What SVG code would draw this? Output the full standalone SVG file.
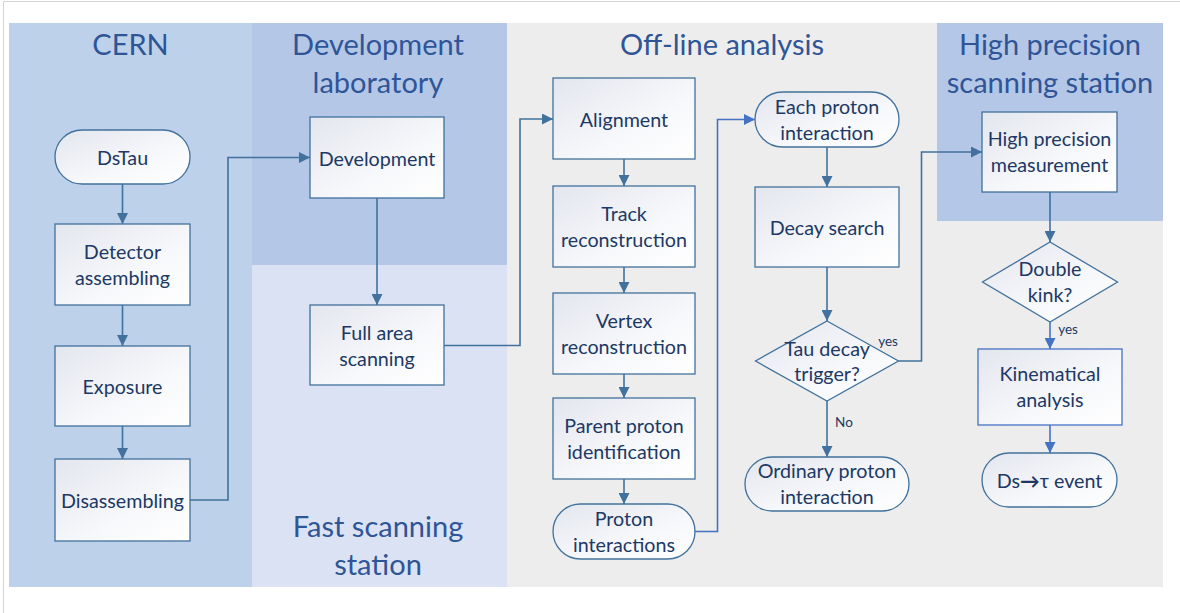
<svg xmlns="http://www.w3.org/2000/svg" width="1180" height="613" viewBox="0 0 1180 613">
<defs>
<linearGradient id="fillg" x1="0" y1="0" x2="1" y2="1">
<stop offset="0" stop-color="#E3E6EE"/>
<stop offset="0.6" stop-color="#F7F8FB"/>
<stop offset="1" stop-color="#FFFFFF"/>
</linearGradient>
<marker id="arr" viewBox="0 0 10 10" refX="10" refY="5" markerWidth="11" markerHeight="11" markerUnits="userSpaceOnUse" orient="auto">
<path d="M0,0 L10,5 L0,10 z" fill="#41719C"/>
</marker>
<marker id="arrb" viewBox="0 0 10 10" refX="10" refY="5" markerWidth="11" markerHeight="11" markerUnits="userSpaceOnUse" orient="auto">
<path d="M0,0 L10,5 L0,10 z" fill="#4472C4"/>
</marker>
</defs>
<style>
.node{fill:url(#fillg);stroke:#41719C;stroke-width:1.3}
.nodeb{fill:url(#fillg);stroke:#4472C4;stroke-width:1.3}
.t{font-family:Lato,"Liberation Sans",sans-serif;font-size:19.7px;fill:#203864;text-anchor:middle}
.title{font-family:Lato,"Liberation Sans",sans-serif;font-size:29px;fill:#2F5597;text-anchor:middle}
.lbl{font-family:Lato,"Liberation Sans",sans-serif;font-size:13.5px;fill:#203864;text-anchor:middle}
.c{fill:none;stroke:#41719C;stroke-width:1.6;marker-end:url(#arr)}
.cb{fill:none;stroke:#4472C4;stroke-width:1.6;marker-end:url(#arrb)}
</style>
<rect x="0" y="0" width="1180" height="613" fill="#FFFFFF"/>
<path d="M3.5 613 V1.5 H1180" fill="none" stroke="#D4D4D4" stroke-width="1"/>
<g id="panels">
<rect x="9" y="23" width="243" height="564" fill="#BED1EA"/>
<rect x="252" y="23" width="255" height="242" fill="#B4C7E7"/>
<rect x="252" y="265" width="255" height="322" fill="#DAE2F3"/>
<rect x="507" y="23" width="656" height="564" fill="#EDEDED"/>
<rect x="937" y="23" width="226" height="198" fill="#B4C7E7"/>
</g>
<g id="titles">
<text class="title" x="130.5" y="55">CERN</text>
<text class="title" x="378" y="55">Development</text>
<text class="title" x="378" y="93">laboratory</text>
<text class="title" x="722" y="55">Off-line analysis</text>
<text class="title" x="1050" y="55">High precision</text>
<text class="title" x="1050" y="93">scanning station</text>
<text class="title" x="378" y="537">Fast scanning</text>
<text class="title" x="378" y="575">station</text>
</g>
<g id="connectors">
<path class="c" d="M122.5 184 V224"/>
<path class="c" d="M122.5 305 V346"/>
<path class="c" d="M122.5 426 V459"/>
<path class="c" d="M190 500 H228 V157.5 H310"/>
<path class="c" d="M377 198 V305"/>
<path class="c" d="M444 345.5 H520 V119 H553"/>
<path class="c" d="M624 159 V186"/>
<path class="c" d="M624 267 V293"/>
<path class="c" d="M624 374 V398"/>
<path class="c" d="M624 479 V504"/>
<path class="cb" d="M695 531.5 H717.5 V119.5 H755"/>
<path class="c" d="M827 147 V187"/>
<path class="c" d="M827 267 V321"/>
<path class="c" d="M827 401 V457"/>
<path class="c" d="M898.5 361 H921.5 V152 H982"/>
<path class="c" d="M1050 192 V242"/>
<path class="cb" d="M1050 322 V349"/>
<path class="cb" d="M1050 425 V453"/>
<text class="lbl" x="888" y="346">yes</text>
<text class="lbl" x="844" y="427">No</text>
<text class="lbl" x="1068" y="334">yes</text>
</g>
<g id="n-dstau">
<rect class="node" x="55" y="130" width="135" height="54" rx="27"/>
<text class="t" x="122.5" y="165">DsTau</text>
</g>
<g id="n-detector">
<rect class="node" x="55" y="224" width="135" height="81"/>
<text class="t" x="122.5" y="258.5">Detector</text>
<text class="t" x="122.5" y="284.5">assembling</text>
</g>
<g id="n-exposure">
<rect class="node" x="55" y="346" width="135" height="80"/>
<text class="t" x="122.5" y="394">Exposure</text>
</g>
<g id="n-disassembling">
<rect class="node" x="55" y="459" width="135" height="82"/>
<text class="t" x="122.5" y="508">Disassembling</text>
</g>
<g id="n-development">
<rect class="node" x="310" y="117" width="134" height="81"/>
<text class="t" x="377" y="165.5">Development</text>
</g>
<g id="n-fullarea">
<rect class="node" x="310" y="305" width="134" height="80"/>
<text class="t" x="377" y="339.5">Full area</text>
<text class="t" x="377" y="365.5">scanning</text>
</g>
<g id="n-alignment">
<rect class="node" x="553" y="78" width="142" height="81"/>
<text class="t" x="624" y="126.5">Alignment</text>
</g>
<g id="n-track">
<rect class="node" x="553" y="186" width="142" height="81"/>
<text class="t" x="624" y="220.5">Track</text>
<text class="t" x="624" y="246.5">reconstruction</text>
</g>
<g id="n-vertex">
<rect class="node" x="553" y="293" width="142" height="81"/>
<text class="t" x="624" y="327.5">Vertex</text>
<text class="t" x="624" y="353.5">reconstruction</text>
</g>
<g id="n-parent">
<rect class="node" x="553" y="398" width="142" height="81"/>
<text class="t" x="624" y="432.5">Parent proton</text>
<text class="t" x="624" y="458.5">identification</text>
</g>
<g id="n-proton">
<rect class="node" x="553" y="504" width="142" height="55" rx="27.5"/>
<text class="t" x="624" y="525.5">Proton</text>
<text class="t" x="624" y="551.5">interactions</text>
</g>
<g id="n-each">
<rect class="node" x="755" y="92" width="144" height="55" rx="27.5"/>
<text class="t" x="827" y="113.5">Each proton</text>
<text class="t" x="827" y="139.5">interaction</text>
</g>
<g id="n-decay">
<rect class="node" x="755" y="187" width="144" height="80"/>
<text class="t" x="827" y="235">Decay search</text>
</g>
<g id="n-tau">
<polygon class="node" points="827,321 898.5,361 827,401 755.5,361"/>
<text class="t" x="827" y="355.5">Tau decay</text>
<text class="t" x="827" y="381">trigger?</text>
</g>
<g id="n-ordinary">
<rect class="node" x="745" y="457" width="164" height="54" rx="27"/>
<text class="t" x="827" y="478">Ordinary proton</text>
<text class="t" x="827" y="504">interaction</text>
</g>
<g id="n-hpm">
<rect class="node" x="982" y="112" width="135" height="80"/>
<text class="t" x="1049.5" y="146">High precision</text>
<text class="t" x="1049.5" y="172">measurement</text>
</g>
<g id="n-double">
<polygon class="node" points="1050,242 1117.5,282 1050,322 982.5,282"/>
<text class="t" x="1050" y="276">Double</text>
<text class="t" x="1050" y="302">kink?</text>
</g>
<g id="n-kinematical">
<rect class="nodeb" x="978" y="349" width="144" height="76"/>
<text class="t" x="1050" y="381">Kinematical</text>
<text class="t" x="1050" y="407">analysis</text>
</g>
<g id="n-dsevent">
<rect class="node" x="982" y="453" width="135" height="54" rx="27"/>
<text class="t" x="1049.5" y="488">Ds<tspan font-weight="bold">→</tspan>τ event</text>
</g>
</svg>
